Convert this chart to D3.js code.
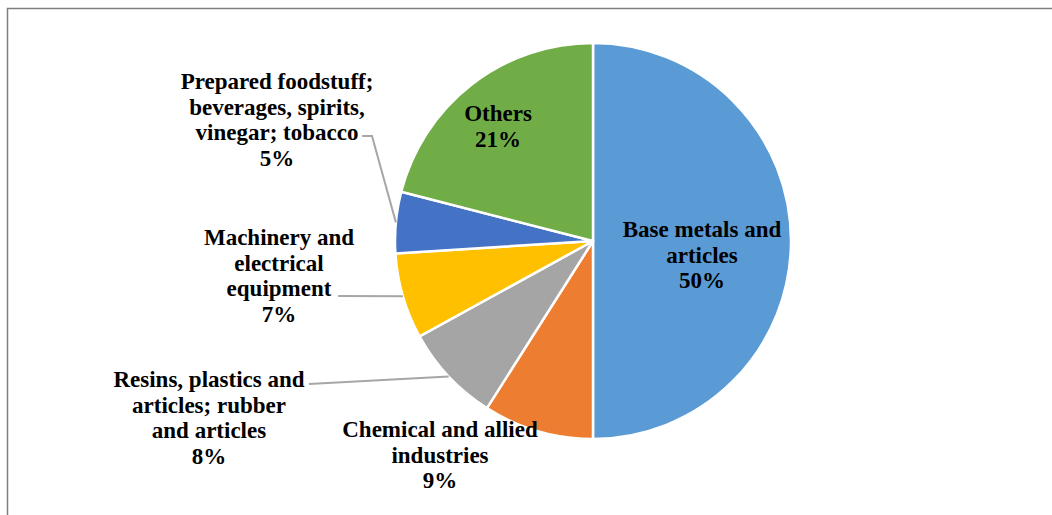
<!DOCTYPE html>
<html>
<head>
<meta charset="utf-8">
<script src="https://cdn.jsdelivr.net/npm/d3@7"></script>
<style>
  html, body { margin: 0; padding: 0; background: #ffffff; }
  svg { display: block; }
</style>
</head>
<body>
<svg id="chart" width="1052" height="515"></svg>
<script>
// Export composition by product group (share of total, %)
const categories = [
  "Base metals and articles",
  "Chemical and allied industries",
  "Resins, plastics and articles; rubber and articles",
  "Machinery and electrical equipment",
  "Prepared foodstuff; beverages, spirits, vinegar; tobacco",
  "Others"
];
const shares = [50, 9, 8, 7, 5, 21];

// Wrapped label text for each slice
const labelLines = [
  ["Base metals and", "articles"],
  ["Chemical and allied", "industries"],
  ["Resins, plastics and", "articles; rubber", "and articles"],
  ["Machinery and", "electrical", "equipment"],
  ["Prepared foodstuff;", "beverages, spirits,", "vinegar; tobacco"],
  ["Others"]
];

const colors = ["#5B9BD5", "#ED7D31", "#A5A5A5", "#FFC000", "#4472C4", "#70AD47"];

// Label placement: text centre x, first baseline y, and optional leader start points
const labelLayout = [
  { x: 702, y: 237 },
  { x: 440, y: 437 },
  { x: 209, y: 387, leader: [[309, 384]] },
  { x: 279, y: 245, leader: [[338, 296]] },
  { x: 277, y: 89, leader: [[362, 136], [372, 136]] },
  { x: 498, y: 121 }
];

const W = 1052, H = 515;
const cx = 593, cy = 241, radius = 198;
const lineH = 25.5;

const svg = d3.select("#chart");

// Chart frame
svg.append("rect")
  .attr("x", 7.5).attr("y", 8.5)
  .attr("width", 1100).attr("height", 600)
  .attr("fill", "none")
  .attr("stroke", "#7f7f7f")
  .attr("stroke-width", 1.5);

const data = categories.map((c, i) => ({ name: c, value: shares[i], i }));

const pie = d3.pie().sort(null).value(d => d.value);
const arcs = pie(data);
const arc = d3.arc().innerRadius(0).outerRadius(radius);

const g = svg.append("g").attr("transform", `translate(${cx},${cy})`);

g.selectAll("path.slice")
  .data(arcs)
  .join("path")
  .attr("class", "slice")
  .attr("d", arc)
  .attr("fill", d => colors[d.data.i])
  .attr("stroke", "#ffffff")
  .attr("stroke-width", 2.5)
  .attr("stroke-linejoin", "round");

// Leader lines from labels to the rim of their slices
arcs.forEach(a => {
  const lay = labelLayout[a.data.i];
  if (!lay.leader) return;
  const mid = (a.startAngle + a.endAngle) / 2;
  const rim = [cx + radius * Math.sin(mid), cy - radius * Math.cos(mid)];
  const pts = lay.leader.concat([rim]);
  svg.append("path")
    .attr("d", d3.line()(pts))
    .attr("fill", "none")
    .attr("stroke", "#A6A6A6")
    .attr("stroke-width", 2);
});

// Data labels: category text followed by the percentage
arcs.forEach(a => {
  const i = a.data.i;
  const lay = labelLayout[i];
  const lines = labelLines[i].concat([d3.format("d")(a.data.value) + "%"]);
  const t = svg.append("text")
    .attr("x", lay.x)
    .attr("y", lay.y)
    .attr("text-anchor", "middle")
    .attr("font-family", "'Liberation Serif', 'Times New Roman', serif")
    .attr("font-weight", "bold")
    .attr("font-size", 23)
    .attr("fill", "#000000");
  lines.forEach((ln, k) => {
    t.append("tspan")
      .attr("x", lay.x)
      .attr("y", lay.y + k * lineH)
      .text(ln);
  });
});
</script>
</body>
</html>
